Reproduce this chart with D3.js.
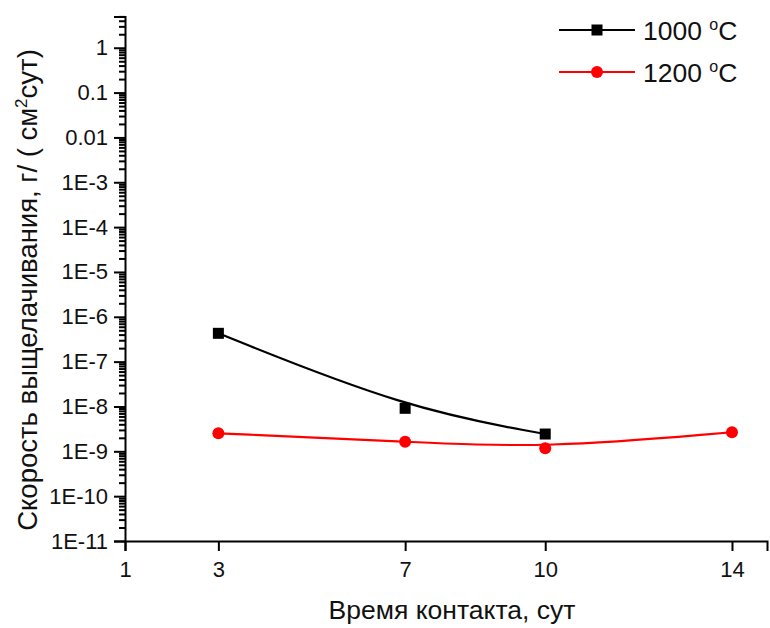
<!DOCTYPE html>
<html>
<head>
<meta charset="utf-8">
<script src="https://cdn.jsdelivr.net/npm/d3@7"></script>
<style>
  body { margin: 0; background: #fff; }
  text { font-family: "Liberation Sans", Arial, sans-serif; fill: #111; }
</style>
</head>
<body>
<div id="chart-area"></div>
<script>
var days1000 = [3, 7, 10];
var rate1000 = [4.28e-7, 9.1e-9, 2.43e-9];
var days1200 = [3, 7, 10, 14];
var rate1200 = [2.52e-9, 1.64e-9, 1.17e-9, 2.66e-9];
var seriesNames = ["1000 ", "1200 "];
var xTicks = [1, 3, 7, 10, 14];
var yTicks = [1e-11, 1e-10, 1e-9, 1e-8, 1e-7, 1e-6, 1e-5, 1e-4, 1e-3, 0.01, 0.1, 1];
var yTickLabels = ["1E-11", "1E-10", "1E-9", "1E-8", "1E-7", "1E-6", "1E-5", "1E-4", "1E-3", "0.01", "0.1", "1"];

var width = 770;
var height = 628;

var svg = d3.select("#chart-area").append("svg")
	.attr("width", width)
	.attr("height", height);

var x = d3.scaleLinear()
	.domain([1, 14.75])
	.range([125, 767]);

var y = d3.scaleLog()
	.domain([1e-11, 5])
	.range([541, 16.4]);

// minor ticks: 2..9 in every decade up to 5
var minor = [];
for (var e = -11; e <= 0; e++) {
	for (var m = 2; m <= 9; m++) {
		var v = m * Math.pow(10, e);
		if (v <= 5) minor.push(v);
	}
}

var leftAxis = d3.axisLeft(y)
	.tickValues(yTicks)
	.tickSize(11)
	.tickPadding(6)
	.tickFormat((d, i) => yTickLabels[i]);
var minorAxis = d3.axisLeft(y)
	.tickValues(minor)
	.tickSize(6)
	.tickFormat("");
var bottomAxis = d3.axisBottom(x)
	.tickValues(xTicks)
	.tickSize(10)
	.tickPadding(10)
	.tickFormat(d3.format("d"));

var gy = svg.append("g")
	.attr("transform", "translate(125,0)")
	.call(leftAxis);
svg.append("g")
	.attr("transform", "translate(125,0)")
	.call(minorAxis)
	.select(".domain").remove();
var gx = svg.append("g")
	.attr("transform", "translate(0,541)")
	.call(bottomAxis);

[gx, gy].forEach(g => {
	g.select(".domain").attr("stroke", "#000").attr("stroke-width", 2);
	g.selectAll(".tick text").attr("font-size", "22px").attr("fill", "#111")
		.attr("font-family", "'Liberation Sans', Arial, sans-serif");
});
svg.selectAll(".tick line").attr("stroke", "#000").attr("stroke-width", 2);

var line = d3.line()
	.x(d => x(d[0]))
	.y(d => y(d[1]))
	.curve(d3.curveBasis);

var pts1000 = days1000.map((d, i) => [d, rate1000[i]]);
var pts1200 = days1200.map((d, i) => [d, rate1200[i]]);

svg.append("path")
	.attr("d", line(pts1200))
	.attr("fill", "none")
	.attr("stroke", "#ff0000")
	.attr("stroke-width", 2.2);
svg.append("path")
	.attr("d", line(pts1000))
	.attr("fill", "none")
	.attr("stroke", "#000")
	.attr("stroke-width", 2.2);

svg.selectAll(".sq").data(pts1000).enter()
	.append("rect")
	.attr("x", d => x(d[0]) - 5.5)
	.attr("y", d => y(d[1]) - 5.5)
	.attr("width", 11)
	.attr("height", 11)
	.attr("fill", "#000");
svg.selectAll(".dot").data(pts1200).enter()
	.append("circle")
	.attr("cx", d => x(d[0]))
	.attr("cy", d => y(d[1]))
	.attr("r", 6)
	.attr("fill", "#ff0000");

// legend
var legend = svg.append("g");
var colors = ["#000", "#ff0000"];
[30, 72].forEach((ly, i) => {
	legend.append("line")
		.attr("x1", 559).attr("x2", 635)
		.attr("y1", ly).attr("y2", ly)
		.attr("stroke", colors[i]).attr("stroke-width", 2.2);
	if (i == 0) {
		legend.append("rect")
			.attr("x", 591.5).attr("y", ly - 5.5)
			.attr("width", 11).attr("height", 11)
			.attr("fill", "#000");
	} else {
		legend.append("circle")
			.attr("cx", 597).attr("cy", ly).attr("r", 6)
			.attr("fill", "#ff0000");
	}
	var t = legend.append("text")
		.attr("x", 643).attr("y", ly + 10)
		.attr("font-size", "26.5px");
	t.append("tspan").text(seriesNames[i]);
	t.append("tspan").attr("dy", -10).attr("font-size", "16px").text("o");
	t.append("tspan").attr("dy", 10).text("C");
});

// axis titles
svg.append("text")
	.attr("x", 452)
	.attr("y", 619)
	.attr("font-size", "26.5px")
	.attr("text-anchor", "middle")
	.text("Время контакта, сут");

var yt = svg.append("text")
	.attr("transform", "translate(37,290) rotate(-90)")
	.attr("font-size", "27.5px")
	.attr("text-anchor", "middle");
yt.append("tspan").text("Скорость выщелачивания, г/ ( см");
yt.append("tspan").attr("dy", -10).attr("font-size", "17px").text("2");
yt.append("tspan").attr("dy", 10).text("сут)");
</script>
</body>
</html>
